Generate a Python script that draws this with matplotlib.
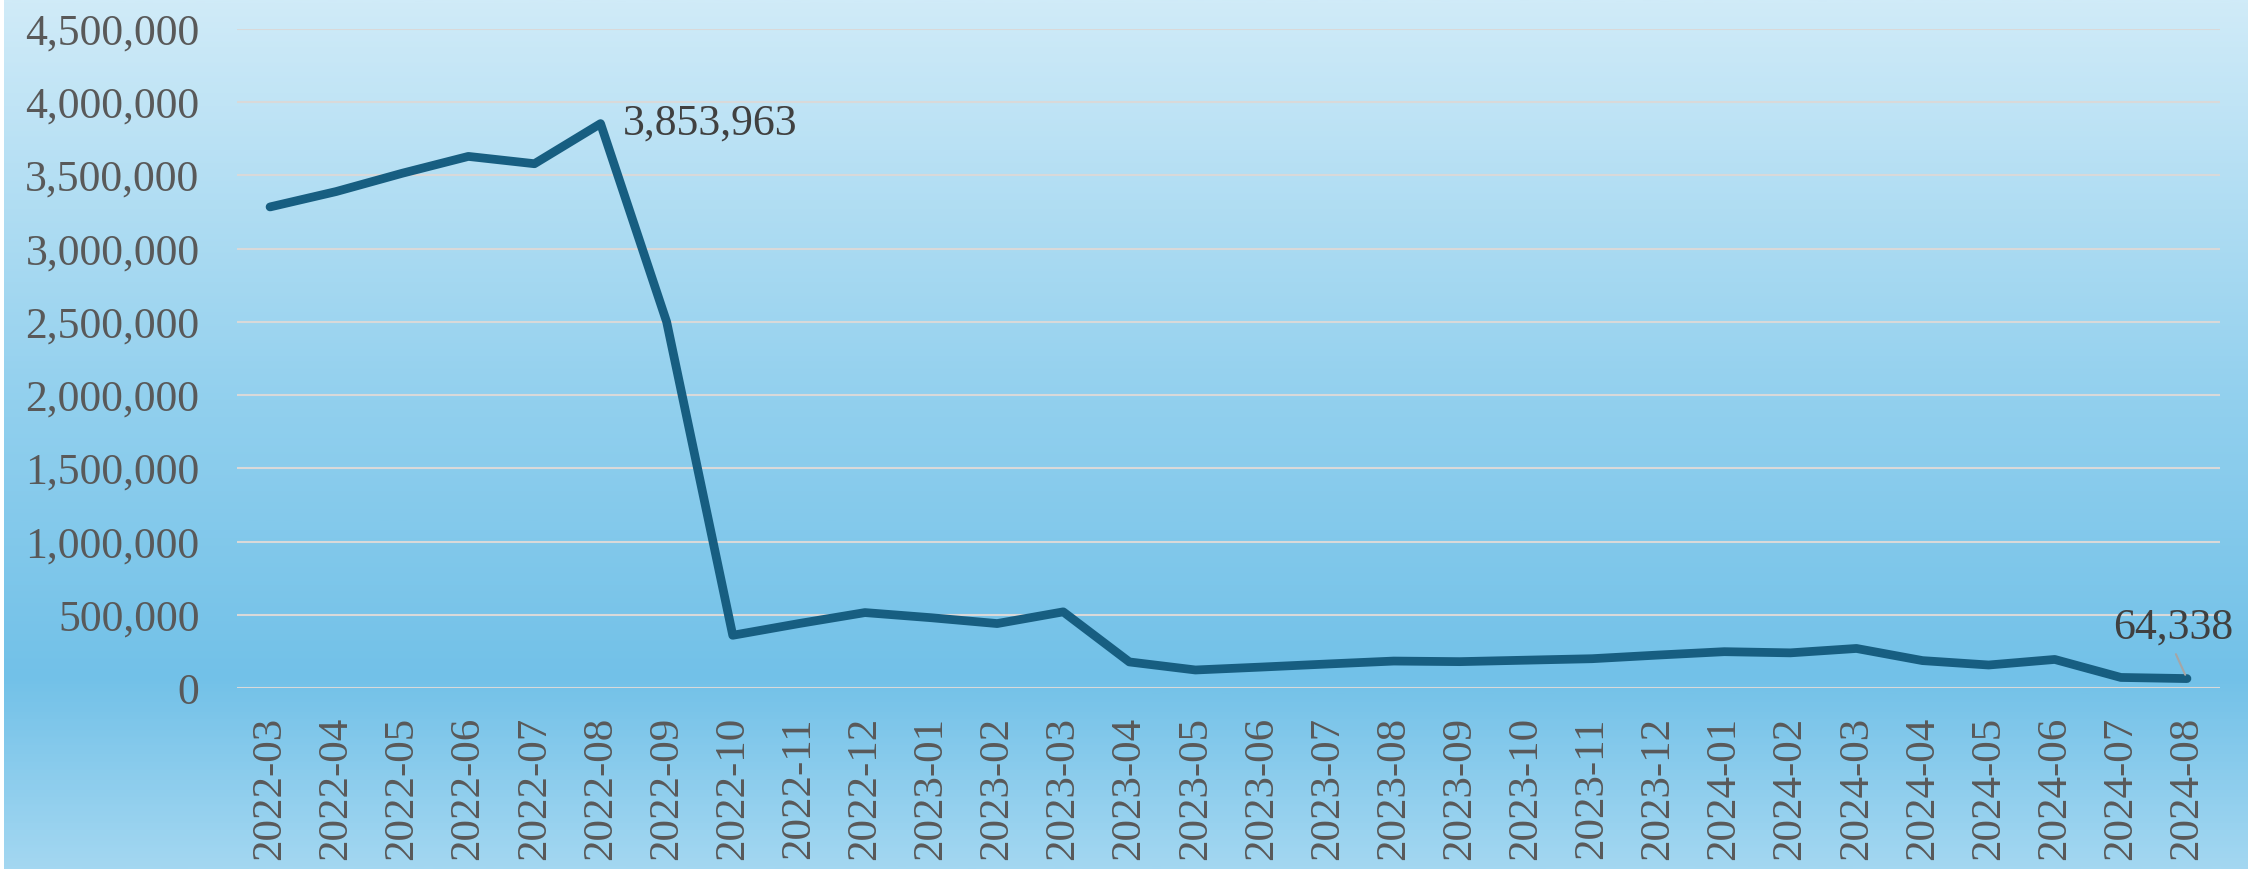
import numpy as np
import matplotlib
matplotlib.use('Agg')
import matplotlib.pyplot as plt
from matplotlib.colors import LinearSegmentedColormap
from matplotlib.ticker import FuncFormatter

months = ['2022-03', '2022-04', '2022-05', '2022-06', '2022-07', '2022-08',
          '2022-09', '2022-10', '2022-11', '2022-12', '2023-01', '2023-02',
          '2023-03', '2023-04', '2023-05', '2023-06', '2023-07', '2023-08',
          '2023-09', '2023-10', '2023-11', '2023-12', '2024-01', '2024-02',
          '2024-03', '2024-04', '2024-05', '2024-06', '2024-07', '2024-08']
values = [3285000, 3390000, 3515000, 3630000, 3580000, 3853963,
          2500000, 360000, 440000, 515000, 480000, 440000,
          520000, 178000, 123000, 143000, 164000, 184000,
          180000, 190000, 200000, 225000, 248000, 240000,
          270000, 187000, 157000, 195000, 72000, 64338]
yticks = list(range(0, 4500001, 500000))

W, H = 2252, 869
plt.rcParams['font.family'] = ['Liberation Serif', 'DejaVu Serif']

fig = plt.figure(figsize=(W / 100, H / 100), dpi=100)
fig.patch.set_facecolor('white')

# background gradient (light top, darker low, lighter at the bottom)
cmap = LinearSegmentedColormap.from_list('bg', [
    (0.0, '#d0ebf8'), (0.46, '#92d0ee'), (0.78, '#72c1e8'), (1.0, '#a3d7f1')])
bg = fig.add_axes([4 / W, 0, (W - 8) / W, 1])
bg.imshow(np.linspace(0, 1, 400).reshape(-1, 1), aspect='auto', cmap=cmap,
          extent=[0, 1, 1, 0])
bg.set_xlim(0, 1)
bg.set_ylim(1, 0)
bg.axis('off')

ax = fig.add_axes([237 / W, (H - 688) / H, (2220 - 237) / W, (688 - 29) / H])
ax.patch.set_alpha(0)

x = np.arange(len(months))
ax.plot(x, values, color='#175e81', lw=6.3, solid_capstyle='round',
        solid_joinstyle='round', zorder=3)

ax.set_xlim(-0.5, len(months) - 0.5)
ax.set_ylim(0, 4500000)
ax.set_yticks(yticks)
ax.yaxis.set_major_formatter(FuncFormatter(lambda v, p: f'{v:,.0f}'))
ax.set_xticks(x)
ax.set_xticklabels(months, rotation=90)
ax.yaxis.grid(True, color='#d9d9d9', lw=1.5)
ax.set_axisbelow(True)
for s in ax.spines.values():
    s.set_visible(False)
ax.tick_params(axis='both', length=0, labelcolor='#595959')
ax.tick_params(axis='y', pad=27, labelsize=31.5)
ax.tick_params(axis='x', pad=21, labelsize=31)

ax.annotate('3,853,963', xy=(5, values[5]), xytext=(22, 0),
            textcoords='offset pixels', va='center', ha='left',
            fontsize=31.5, color='#404040')
ax.annotate('64,338', xy=(29, values[29]), xytext=(-14, 40),
            textcoords='offset pixels', va='baseline', ha='center',
            fontsize=31.5, color='#404040',
            arrowprops=dict(arrowstyle='-', color='#a6a6a6', lw=1.5,
                            relpos=(0.5, 0), shrinkA=3, shrinkB=3))

fig.savefig('out.png', dpi=100)
